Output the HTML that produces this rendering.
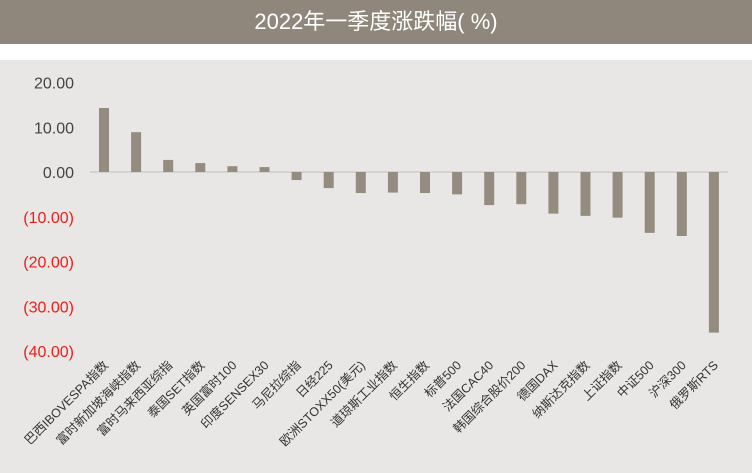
<!DOCTYPE html>
<html><head><meta charset="utf-8"><style>
body{margin:0;width:752px;height:473px;overflow:hidden;background:#fff;font-family:"Liberation Sans","Noto Sans CJK SC",sans-serif;}
#title{position:absolute;left:0;top:0;width:752px;height:44px;background:#8f877b;color:#fff;font-size:22px;text-align:center;line-height:44px;}
#panel{position:absolute;left:0;top:60px;width:752px;height:413px;background:#e9e7e5;}
svg{position:absolute;left:0;top:0;}
</style></head><body>
<div id="title">2022年一季度涨跌幅( %)</div>
<div id="panel"></div>
<svg id="chart" width="752" height="473"></svg>
<script>
const categories=["巴西IBOVESPA指数","富时新加坡海峡指数","富时马来西亚综指","泰国SET指数","英国富时100","印度SENSEX30","马尼拉综指","日经225","欧洲STOXX50(美元)","道琼斯工业指数","恒生指数","标普500","法国CAC40","韩国综合股价200","德国DAX","纳斯达克指数","上证指数","中证500","沪深300","俄罗斯RTS"];
const values=[14.3,8.9,2.7,2.0,1.3,1.1,-1.8,-3.6,-4.7,-4.6,-4.7,-5.0,-7.4,-7.2,-9.3,-9.8,-10.2,-13.6,-14.3,-35.9];
const ticks=[20,10,0,-10,-20,-30,-40];
const tickLabels=["20.00","10.00","0.00","(10.00)","(20.00)","(30.00)","(40.00)"];
const NS="http://www.w3.org/2000/svg";
const svg=document.getElementById('chart');
const y=v=>172-v*4.475;
const x=i=>104+i*32.1;
function mk(t,a){const e=document.createElementNS(NS,t);for(const k in a)e.setAttribute(k,a[k]);svg.appendChild(e);return e;}
ticks.forEach((t,i)=>{const e=mk('text',{x:74,y:y(t)+6,'text-anchor':'end','font-size':16,fill:t<0?'#e8201c':'#444'});


e.textContent=tickLabels[i];});
const zl=mk('line',{x1:90,x2:728,y1:y(0),y2:y(0),stroke:'#cfccc8','stroke-width':1.5});


values.forEach((v,i)=>{const r=mk('rect',{x:x(i)-5,width:10,y:Math.min(y(v),y(0)),height:Math.abs(y(v)-y(0)),fill:'#958c80'});

});
categories.forEach((c,i)=>{const t=mk('text',{x:x(i)+5,y:366,'text-anchor':'end','font-size':12.5,fill:'#333',transform:`rotate(-45 ${x(i)+5} 366)`});


t.textContent=c;});
</script>
</body></html>
